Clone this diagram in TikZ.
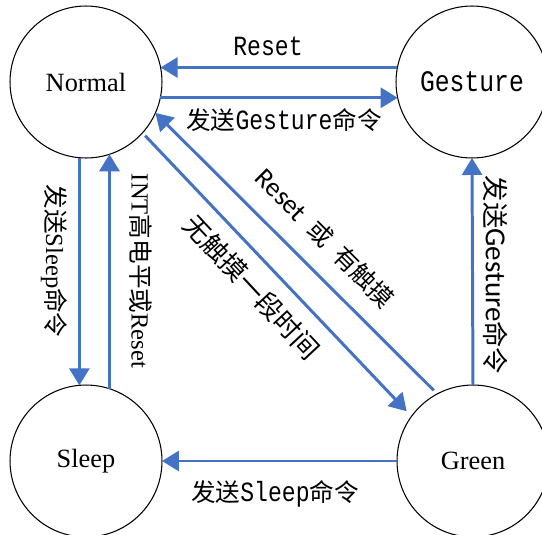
\documentclass[tikz,border=0pt]{standalone}
\usepackage{fontspec}
\usepackage{tikz}
\usetikzlibrary{arrows.meta}
\setmainfont{Liberation Serif}
\newfontfamily\zhfont{Noto Sans CJK SC}
\newfontfamily\latinmono[FakeStretch=0.83,Scale=1.13]{Liberation Mono}
\newfontfamily\latinsans[Scale=1.1]{Carlito}
\definecolor{edge_blue}{HTML}{4472C4}

\begin{document}
\begin{tikzpicture}[x=0.02cm, y=-0.02cm,
node_style/.style={circle,draw=black,line width=0.6pt,fill=white,minimum size=3.04cm,inner sep=0pt,outer sep=0pt,font=\fontsize{15}{18}\selectfont},
edge_style/.style={draw=edge_blue, line width=1.7pt, -{Triangle[length=0.34cm,width=0.4cm]}},
label_style/.style={inner sep=0pt,font=\fontsize{14}{17}\selectfont}]
\useasboundingbox (0,0) rectangle (542,535);

\node[node_style] (normal) at (86,82) {Normal};
\node[node_style] (gesture) at (472,82) {\latinmono Gesture};
\node[node_style] (sleep) at (86,461) {Sleep};
\node[node_style] (green) at (473,461) {Green};

\draw[edge_style]  (gesture.169) -- (normal.11);
\draw[edge_style]  (normal.-12) -- (gesture.192);
\draw[edge_style]  (normal.-95) -- (sleep.95);
\draw[edge_style]  (sleep.72) -- (normal.-72);
\draw[edge_style, shorten <=0.08cm, shorten >=0.14cm]  (normal.-42) -- (green.144);
\draw[edge_style, shorten <=0.1cm]  (green.118) -- (normal.-24);
\draw[edge_style]  (green.90) -- (gesture.-90);
\draw[edge_style]  (green.180) -- (sleep.0);

\node[label_style] (reset_top) at (268,46) {\latinmono Reset};
\node[label_style] (send_gesture_top) at (284,120) {{\zhfont 发送}{\latinmono Gesture}{\zhfont 命令}};
\node[label_style] (send_sleep_bottom) at (275,494) {{\zhfont 发送}{\latinmono Sleep}{\zhfont 命令}};
\node[label_style, rotate=-90] (send_sleep_left) at (54,261) {{\zhfont 发送}Sleep{\zhfont 命令}};
\node[label_style, rotate=-90] (int_reset) at (141,271) {INT{\zhfont 高电平或}Reset};
\node[label_style, rotate=-90, font=\fontsize{15}{18}\selectfont] (send_gesture_right) at (496,275) {{\zhfont 发送}{\latinsans Gesture}{\zhfont 命令}};
\node[label_style, rotate=-47, font=\fontsize{15}{18}\selectfont] (no_touch) at (252,287) {\zhfont 无触摸一段时间};
\node[label_style, rotate=-45] (reset_touch) at (325,238) {{\latinsans Reset}\hspace{0.5em}{\zhfont 或}\hspace{0.5em}{\zhfont 有触摸}};

\end{tikzpicture}
\end{document}
